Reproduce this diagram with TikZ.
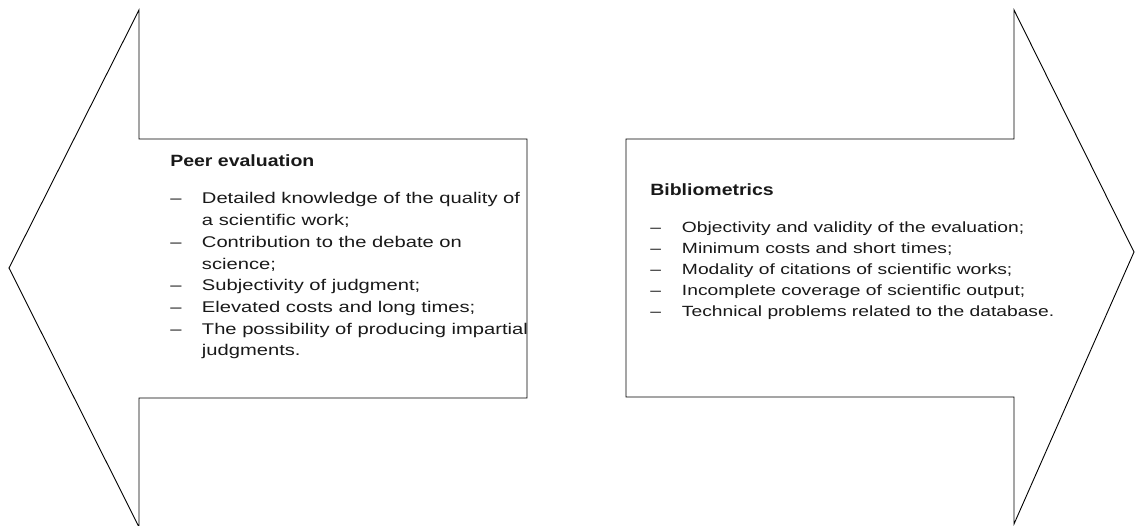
\documentclass[tikz,border=0pt]{standalone}
\usepackage{fontspec}
\setmainfont{Liberation Sans}
\newcommand{\itemdash}{\makebox[24.4pt][l]{–}}
\newcommand{\boxtitle}[1]{\scalebox{0.92}[1]{\fontsize{16.3}{21}\selectfont\bfseries #1}}
\begin{document}
\begin{tikzpicture}[x=1pt,y=-1pt,
  outline/.style={draw=black,line width=0.9pt,line join=miter},
  listbox/.style={inner sep=0pt,anchor=base west,xscale=1.30,transform shape,text=black!90}]
\useasboundingbox (0,0) rectangle (1135,526);

% left-pointing block arrow
\draw[outline] (139,10) -- (9,268) -- (139,527) -- (139,398) -- (527,398)
  -- (527,139) -- (139,139) -- cycle;

% right-pointing block arrow
\draw[outline] (626,139) -- (1014,139) -- (1014,10) -- (1134,252)
  -- (1014,524) -- (1014,397) -- (626,397) -- cycle;

\node[listbox] (peer) at (170,166.7) {%
  \fontsize{15.5}{21.7}\selectfont
  \begin{tabular}[t]{@{}l@{}}
  \boxtitle{Peer evaluation}\\[15.6pt]
  \itemdash Detailed knowledge of the quality of\\
  \hspace*{24.4pt}a scientific work;\\
  \itemdash Contribution to the debate on\\
  \hspace*{24.4pt}science;\\
  \itemdash Subjectivity of judgment;\\
  \itemdash Elevated costs and long times;\\
  \itemdash The possibility of producing impartial\\
  \hspace*{24.4pt}judgments.
  \end{tabular}};

\node[listbox] (biblio) at (650,196) {%
  \fontsize{14.8}{20.8}\selectfont
  \begin{tabular}[t]{@{}l@{}}
  \boxtitle{Bibliometrics}\\[16.2pt]
  \itemdash Objectivity and validity of the evaluation;\\
  \itemdash Minimum costs and short times;\\
  \itemdash Modality of citations of scientific works;\\
  \itemdash Incomplete coverage of scientific output;\\
  \itemdash Technical problems related to the database.
  \end{tabular}};
\end{tikzpicture}
\end{document}
